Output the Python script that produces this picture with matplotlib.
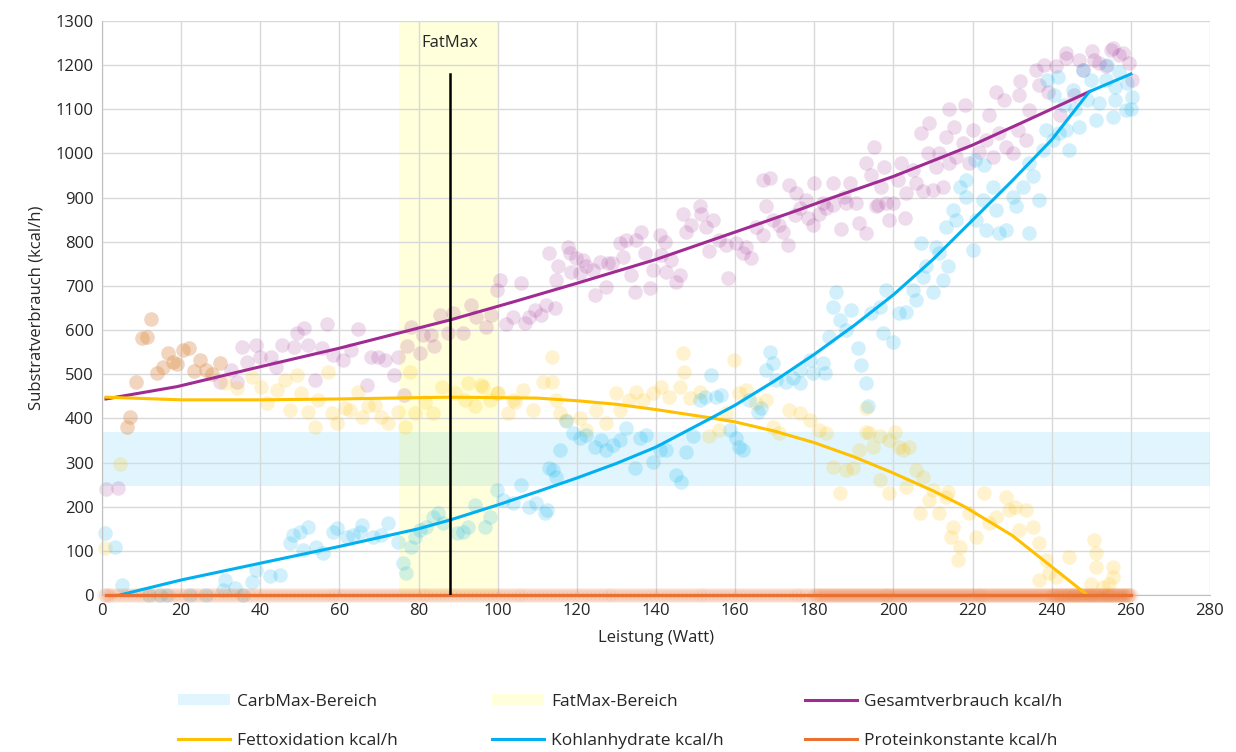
import numpy as np
import matplotlib.pyplot as plt
from matplotlib.patches import Patch
from matplotlib.lines import Line2D

plt.rcParams['font.family'] = ['Open Sans', 'DejaVu Sans']

# Messpunkte
gesamt_x = [1, 4, 6.2, 7, 8.6, 10, 11.3, 12.5, 14, 15.5, 16.7, 18, 19, 20.5, 22, 23.3, 24.7, 26.4, 27.7, 29.8,
            29.8, 32.7, 34, 35.3, 36.7, 38.9, 40, 42.6, 44, 45.4, 48.5, 49.4, 51, 52, 53.8, 55.7, 56.9, 58.4,
            61, 63, 64.7, 67, 68, 69.8, 71.5, 73.7, 74.8, 76.3, 77.1, 78.2, 80.3, 81.1, 83.2, 84, 85.4, 87.5,
            88.7, 91.2, 93.3, 94.6, 97.1, 98.4, 99.7, 100.5, 102.2, 103.8, 106, 106.8, 108, 109.3, 111, 112.3,
            114.4, 113, 115.2, 114.8, 117.8, 118.2, 119.9, 118.6, 120.7, 121.5, 122.4, 124.5, 124, 125.8, 127.4,
            127.9, 129, 130.8, 131.6, 132.5, 133.8, 134.6, 135, 136.3, 137.1, 138.4, 139.2, 140.9, 141.3, 142.2,
            142.6, 143.9, 145.1, 146, 146.8, 147.6, 148.9, 151, 151.4, 152.7, 153.5, 154.4, 156, 157.7, 158.2,
            160.3, 162, 162.8, 164, 165.3, 167, 167.8, 169.5, 171.2, 172, 173.3, 175, 176.3, 178.4, 179.6, 181.3,
            183, 184.7, 186.8, 188, 190.6, 191.4, 193.1, 195.6, 198.1, 199, 202.8, 167, 168.7, 173.7, 175.5,
            178, 180, 182.1, 184.7, 187.6, 188.9, 193.1, 194.4, 195.2, 196, 196.9, 197.7, 199.8, 201.1, 201.9,
            203.2, 204.9, 205.7, 207, 207.4, 208.7, 209.9, 210.8, 211.6, 212.5, 213.3, 214.1, 215.4, 215.8,
            217.5, 219.2, 220, 221.7, 223.4, 225.1, 226.8, 228.5, 230.1, 231.4, 233.5, 209, 214, 218, 224.2,
            226, 228, 231.8, 232, 234.3, 236.9, 238, 239, 242, 243.7, 245.7, 248, 250.8, 255, 257, 243.6,
            250.3, 255.4, 257.9, 236, 241, 247, 252, 253.7, 259.6, 260.4]
gesamt_y = [240, 243, 381, 403, 482, 582, 585, 625, 502, 517, 548, 528, 523, 555, 560, 508, 532, 510, 500, 525,
            483, 510, 483, 562, 528, 566, 538, 540, 517, 566, 562, 593, 604, 566, 487, 559, 613, 544,
            532, 555, 603, 476, 540, 540, 532, 498, 538, 453, 565, 608, 549, 589, 589, 564, 634, 593,
            638, 593, 657, 630, 608, 634, 691, 713, 614, 630, 706, 615, 630, 645, 634, 657,
            649, 774, 744, 713, 789, 774, 763, 732, 729, 759, 744, 680, 736, 755, 698,
            751, 751, 797, 766, 804, 725, 687, 804, 823, 774, 695, 736, 815, 770, 800,
            732, 759, 710, 725, 864, 823, 838, 880, 864, 834, 778, 849, 804, 793, 717,
            797, 774, 789, 763, 834, 815, 880, 849, 838, 823, 793, 861, 876, 853, 838, 864,
            876, 883, 830, 887, 887, 842, 819, 880, 887, 849, 853, 940, 944, 929, 910,
            895, 932, 887, 932, 902, 932, 978, 951, 1015, 883, 925, 970, 887, 940, 978,
            910, 963, 932, 1046, 914, 1000, 917, 970, 1000, 925, 1038, 978, 1061, 993,
            1023, 978, 1053, 1004, 1031, 993, 1046, 1015, 1000, 1053, 1031, 1069, 1100, 1110, 1087,
            1140, 1121, 1132, 1165, 1098, 1155, 1200, 1140, 1087, 1216, 1132, 1189, 1212, 1234, 1223, 1227,
            1231, 1238, 1227, 1189, 1197, 1212, 1204, 1197, 1204, 1166]

fett_x = [6.2, 7, 8.6, 10, 11.3, 12.5, 14, 15.5, 16.7, 18, 19, 20.5, 22, 23.3, 24.7, 26.4, 27.7, 29.8,
          0.8, 4.5, 31, 34, 37.8, 40.3, 41.6, 44.1, 46.2, 47.5, 49.2, 50.4, 52.1, 53.8, 54.6, 57.2, 58, 59.3,
          61.4, 62.6, 64.7, 65.6, 67.2, 68.9, 70.6, 72.3, 74.8, 76.5, 77.8, 79, 81.6, 83.7, 85.8, 89.1, 91.7,
          92.5, 94.2, 95.9, 98, 100.1, 102.6, 104.3, 96.3, 99.7, 103.9, 106.4, 108.9, 111.4, 113.6, 113.7,
          114.8, 115.7, 117.3, 120.7, 122.4, 124.9, 127.4, 130, 130.8, 133.3, 135, 136.7, 139.2, 141.3, 143.4,
          146, 146.8, 147.2, 148.5, 151, 153.5, 156, 157.7, 159.8, 161.1, 162.8, 165.3, 167.8, 169.5, 171.2,
          173.7, 176.3, 178.8, 181.3, 183, 184.7, 186.4, 188, 189.7, 191.4, 193.1, 193.1, 193.9, 194.8, 196.5,
          196.5, 199, 199, 200.3, 201.5, 202.4, 203.2, 204, 205.7, 207.4, 209.9, 211.6, 213.3, 214.6, 215,
          216.3, 206.6, 209.1, 213.7, 216.7, 219.2, 220.9, 223, 224.2, 225.9, 228.5, 229.3, 230.6, 231.8,
          233.5, 235.2, 236.9, 238.5, 236.9, 239.4, 241.1, 244.4, 250.8, 251.2, 251.2, 255.4, 255.6, 249.9,
          252.9, 254.5]
fett_y = [381, 403, 482, 582, 585, 625, 502, 517, 548, 528, 523, 555, 560, 508, 532, 510, 500, 525,
          106, 297, 480, 468, 494, 472, 434, 464, 487, 419, 498, 457, 415, 381, 442, 506, 412, 389,
          423, 419, 460, 404, 427, 430, 404, 389, 415, 381, 506, 412, 438, 412, 472, 457, 442,
          480, 427, 476, 442, 457, 412, 438, 472, 457, 442, 464, 419, 483, 483, 540,
          442, 412, 396, 400, 374, 419, 389, 457, 419, 442, 460, 442, 457, 472, 449,
          472, 547, 506, 446, 460, 359, 374, 412, 532, 457, 464, 434, 442, 381, 366,
          419, 412, 396, 374, 366, 291, 230, 283, 287, 328, 370, 423, 366, 336, 359,
          260, 351, 230, 370, 336, 328, 245, 336, 283, 268, 238, 185, 223, 132, 155,
          79, 185, 215, 234, 109, 185, 132, 230, 162, 177, 223, 193, 200, 147,
          193, 155, 117, 79, 34, 49, 41, 87, 125, 94, 64, 64, 41, 26,
          19, 26]

kohlen_x = [0.8, 3.3, 5, 12, 14.6, 16.3, 22.2, 26.4, 30.6, 33.6, 35.7, 31, 37.8, 39, 42.4, 45, 47.5, 48.3, 50,
            52.1, 50.8, 54.2, 55.9, 58.4, 59.3, 61.8, 63.5, 65.2, 65.6, 68.5, 70.6, 72.3, 74.8, 76.1, 76.9, 78.2,
            79, 80.3, 82, 83.7, 84.9, 86.2, 89.6, 91.2, 92.5, 94.2, 96.7, 98, 99.7, 101.3, 103.9, 106, 108, 109.8,
            111.9, 112.4, 113, 114, 114.8, 115.7, 117.3, 119, 120.7, 122.4, 124.5, 126.2, 127.4, 129.1, 130.8,
            132.5, 134.6, 135.9, 137.5, 139.2, 140.9, 142.6, 145.1, 146.4, 147.6, 149.3, 151, 152.3, 154, 155.2,
            156.5, 158.6, 160.3, 161.1, 161.9, 163.6, 165.7, 166.6, 167.8, 169.5, 168.7, 170.4, 172.9, 174.6,
            176.3, 178.8, 182.1, 182.6, 176.3, 179.6, 183.8, 184.7, 185.5, 186.4, 188, 189.3, 191, 191.8, 193.1,
            193.5, 194.4, 196.5, 197.3, 198.2, 199.8, 201.5, 203.2, 204.9, 205.7, 207.4, 208.3, 209.9, 210.8,
            211.6, 212.5, 213.7, 207, 213.3, 215, 215.8, 216.7, 218.4, 218.4, 220, 220.9, 222.6, 223.4, 225.1,
            225.9, 226.8, 228.5, 230.1, 231, 232.7, 234.3, 235.2, 236.9, 234.3, 237.7, 240.2, 241.9, 243.6,
            238.5, 244.4, 220.5, 223, 238.9, 240.7, 241.6, 245.3, 250, 252, 255.4, 258.8, 260.4, 256, 253.7,
            251.2, 247, 248, 254, 257, 259, 246, 249, 256, 260, 243]
kohlen_y = [140, 109, 23, 0, 0, 0, 0, 0, 12, 16, 0, 34, 30, 57, 42, 45, 117, 136, 143,
            155, 102, 109, 94, 143, 151, 132, 136, 143, 159, 132, 136, 162, 121, 72, 49, 109,
            132, 147, 155, 177, 185, 162, 140, 143, 155, 204, 155, 177, 238, 215, 208, 249, 200, 208,
            185, 192, 288, 283, 268, 328, 393, 366, 355, 362, 336, 351, 328, 340, 351,
            378, 287, 355, 362, 302, 328, 328, 272, 257, 325, 359, 442, 449, 498, 449,
            453, 374, 355, 336, 328, 442, 415, 423, 510, 525, 550, 487, 483, 491,
            510, 532, 525, 502, 480, 502, 585, 653, 687, 623, 600, 645, 559, 521, 480,
            427, 638, 653, 593, 691, 574, 638, 642, 691, 668, 721, 744, 687, 789,
            774, 713, 744, 797, 834, 872, 849, 925, 902, 940, 781, 849, 895, 827, 925,
            872, 819, 827, 902, 880, 925, 819, 948, 895, 978, 1008, 1031, 1046, 1053,
            1053, 1008, 985, 974, 1166, 1132, 1174, 1144, 1166, 1114, 1083, 1098, 1129, 1151, 1166,
            1076, 1061, 1190, 1200, 1185, 1160, 1100, 1120, 1120, 1100, 1110]

protein_x = [0.5, 1, 1.5, 2, 3, 4, 5, 6, 7, 8, 9, 10, 11, 12, 13, 14, 15, 16, 17, 18, 19, 20, 21, 22, 23,
             24, 25, 26, 27, 28, 29, 30, 31, 32, 33, 34, 35, 36, 37, 38, 39, 40, 41, 42, 43, 44, 45, 46, 47,
             48, 49, 50, 51, 52, 53, 54, 55, 56, 57, 58, 59, 60, 61, 62, 63, 64, 65, 66, 67, 68, 69, 70, 71,
             72, 73, 74, 75, 76, 77, 78, 79, 80, 81, 82, 83, 84, 85, 86, 87, 88, 89, 90, 91, 92, 93, 94, 95,
             96, 97, 98, 99, 100, 101, 102, 103, 104, 105, 106, 107, 108, 109, 110, 111, 112, 113, 114, 115,
             116, 117, 118, 119, 120, 121, 122, 123, 124, 125, 126, 127, 128, 129, 130, 131, 132, 133, 134,
             135, 136, 137, 138, 139, 140, 141, 142, 143, 144, 145, 146, 147, 148, 149, 150, 151, 152, 153,
             154, 155, 156, 157, 158, 159, 160, 161, 162, 163, 164, 165, 166, 167, 168, 169, 170, 171, 172,
             173, 174, 175, 176, 177, 178, 179, 180, 180.5, 181, 181.5, 182, 182.5, 183, 183.5, 184, 184.5,
             185, 185.5, 186, 186.5, 187, 187.5, 188, 188.5, 189, 189.5, 190, 190.5, 191, 191.5, 192, 192.5,
             193, 193.5, 194, 194.5, 195, 195.5, 196, 196.5, 197, 197.5, 198, 198.5, 199, 199.5, 200, 200.5,
             201, 201.5, 202, 202.5, 203, 203.5, 204, 204.5, 205, 205.5, 206, 206.5, 207, 207.5, 208, 208.5,
             209, 209.5, 210, 210.5, 211, 211.5, 212, 212.5, 213, 213.5, 214, 214.5, 215, 215.5, 216, 216.5,
             217, 217.5, 218, 218.5, 219, 219.5, 220, 220.5, 221, 221.5, 222, 222.5, 223, 223.5, 224, 224.5,
             225, 225.5, 226, 226.5, 227, 227.5, 228, 228.5, 229, 229.5, 230, 230.5, 231, 231.5, 232, 232.5,
             233, 233.5, 234, 234.5, 235, 235.5, 236, 236.5, 237, 237.5, 238, 238.5, 239, 239.5, 240, 240.3,
             240.6, 241, 241.3, 241.6, 242, 242.3, 242.6, 243, 243.3, 243.6, 244, 244.3, 244.6, 245, 245.3,
             245.6, 246, 246.3, 246.6, 247, 247.3, 247.6, 248, 248.3, 248.6, 249, 249.3, 249.6, 250, 250.3,
             250.6, 251, 251.3, 251.6, 252, 252.3, 252.6, 253, 253.3, 253.6, 254, 254.3, 254.6, 255, 255.3,
             255.6, 256, 256.3, 256.6, 257, 257.3, 257.6, 258, 258.3, 258.6, 259, 259.3, 259.6, 260]
protein_y = [0] * len(protein_x)

# Trendlinien
gesamt_trend_x = [1, 19, 40, 60, 88, 104, 120, 140, 160, 176, 183, 200, 220, 234, 249.5]
gesamt_trend_y = [444, 472, 517, 559, 623, 664, 706, 760, 822, 872, 895, 948, 1019, 1076, 1140]
fett_trend_x = [1, 20, 40, 60, 80, 88, 100, 110, 120, 130, 140, 154, 160, 170, 180, 190, 200, 210, 218,
                230, 240, 249]
fett_trend_y = [448, 442, 442, 444, 447, 448, 447, 446, 440, 432, 420, 401, 392, 371, 345, 313, 276,
                236, 200, 135, 64, 0]
kohlen_trend_x = [4.5, 20, 40, 60, 80, 88, 100, 110, 120, 130, 140, 154, 160, 170, 180, 190, 200, 210,
                  220, 230, 240, 249.5, 260]
kohlen_trend_y = [0, 34, 72, 110, 150, 170, 204, 234, 265, 298, 335, 401, 430, 485, 545, 610, 680, 760,
                  849, 938, 1031, 1140, 1180]
protein_trend_x = [1, 260]
protein_trend_y = [0, 0]

carbmax_bereich = [247, 369]
fatmax_bereich = [75, 100]
fatmax_watt = 88
fatmax_top = 1180

c_purple = '#A02B93'
c_yellow = '#FFC000'
c_blue = '#00B0F0'
c_orange = '#E97132'

fig = plt.figure(figsize=(12.36, 7.52), dpi=100)
ax = fig.add_axes([102 / 1236, 1 - 595 / 752, (1210 - 102) / 1236, (595 - 21) / 752])

ax.axhspan(carbmax_bereich[0], carbmax_bereich[1], color=c_blue, alpha=0.12, lw=0, zorder=0.1)
ax.axvspan(fatmax_bereich[0], fatmax_bereich[1], color='#FFFF00', alpha=0.14, lw=0, zorder=0.2)

ms = 110
ax.scatter(gesamt_x, gesamt_y, s=ms, color=c_purple, alpha=0.17, lw=0, zorder=2, clip_on=False)
ax.scatter(fett_x, fett_y, s=ms, color=c_yellow, alpha=0.19, lw=0, zorder=2, clip_on=False)
ax.scatter(kohlen_x, kohlen_y, s=ms, color=c_blue, alpha=0.18, lw=0, zorder=2, clip_on=False)
ax.scatter(protein_x, protein_y, s=ms, color=c_orange, alpha=0.12, lw=0, zorder=2, clip_on=False)

ax.plot(gesamt_trend_x, gesamt_trend_y, color=c_purple, lw=2.2, zorder=3)
ax.plot(fett_trend_x, fett_trend_y, color=c_yellow, lw=2.2, zorder=3)
ax.plot(kohlen_trend_x, kohlen_trend_y, color=c_blue, lw=2.2, zorder=3)
ax.plot(protein_trend_x, protein_trend_y, color=c_orange, lw=2.4, zorder=3, clip_on=False)

ax.plot([fatmax_watt, fatmax_watt], [0, fatmax_top], color='black', lw=1.8, zorder=4)
ax.text(fatmax_watt, 1250, 'FatMax', ha='center', va='center', fontsize=12, color='#262626')

ax.set_xlim(0, 280)
ax.set_ylim(0, 1300)
ax.set_xticks(np.arange(0, 281, 20))
ax.set_yticks(np.arange(0, 1301, 100))
ax.grid(True, color='#D9D9D9', lw=1.0)
ax.set_axisbelow(True)
for s in ['top', 'right']:
    ax.spines[s].set_visible(False)
for s in ['left', 'bottom']:
    ax.spines[s].set_color('#BFBFBF')
ax.tick_params(length=0, labelsize=12, labelcolor='#262626', pad=6)
ax.set_xlabel('Leistung (Watt)', fontsize=12, color='#262626', labelpad=8)
ax.set_ylabel('Substratverbrauch (kcal/h)', fontsize=12, color='#262626', labelpad=8)

h_carb = Patch(facecolor=c_blue, alpha=0.12, edgecolor='none')
h_fat = Patch(facecolor='#FFFF00', alpha=0.14, edgecolor='none')
h_ges = Line2D([], [], color=c_purple, lw=2.2)
h_fett = Line2D([], [], color=c_yellow, lw=2.2)
h_kh = Line2D([], [], color=c_blue, lw=2.2)
h_prot = Line2D([], [], color=c_orange, lw=2.2)

cols = [([h_carb, h_fett], ['CarbMax-Bereich', 'Fettoxidation kcal/h'], 178),
        ([h_fat, h_kh], ['FatMax-Bereich', 'Kohlanhydrate kcal/h'], 492),
        ([h_ges, h_prot], ['Gesamtverbrauch kcal/h', 'Proteinkonstante kcal/h'], 805)]
for hs, ls, px in cols:
    fig.legend(hs, ls, loc='center left', bbox_to_anchor=(px / 1236, 1 - 721.5 / 752),
               frameon=False, fontsize=12.5, handlelength=3.0, handleheight=0.6,
               handletextpad=0.4, borderpad=0, borderaxespad=0, labelspacing=1.35,
               labelcolor='#262626')

fig.savefig('out.png', dpi=100)
